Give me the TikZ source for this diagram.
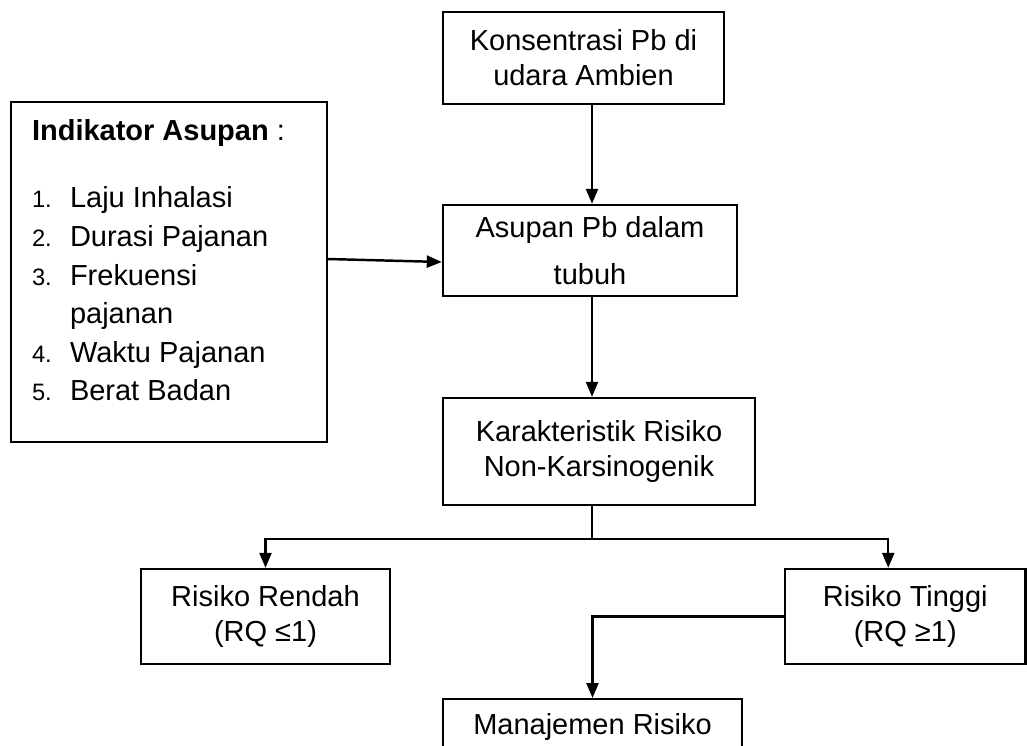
\documentclass[tikz,border=0pt]{standalone}
\usepackage{fontspec}
\setmainfont{Liberation Sans}
\usetikzlibrary{arrows.meta}
\newcommand\itemno[1]{\makebox[0.76cm][l]{\fontsize{13.5}{22}\selectfont #1}}
\tikzset{
 box/.style={draw, line width=1.4pt, align=center, inner sep=0pt, font=\fontsize{16.5}{20}\selectfont},
 arr/.style={-{Triangle[length=0.3cm,width=0.24cm]}}
}
\begin{document}
\begin{tikzpicture}[x=0.02cm,y=-0.02cm,line width=1.4pt]
\useasboundingbox (0,0) rectangle (1027,745);
 \coordinate (axis) at (592,0);
 \coordinate (split) at (592,539);

\node[box,minimum width=5.62cm,minimum height=1.84cm] (konsen) at (583.5,58) {Konsentrasi Pb di\\udara Ambien};
\node[box,minimum width=5.88cm,minimum height=1.82cm] (asupan) at (590,250.5) {Asupan Pb dalam\\[0.24cm]tubuh};
\node[box,minimum width=6.24cm,minimum height=2.14cm] (karakter) at (599,451.5) {Karakteristik Risiko\\Non-Karsinogenik};
\node[box,minimum width=4.98cm,minimum height=1.9cm] (rendah) at (265.5,616.5) {Risiko Rendah\\(RQ ≤1)};
\node[box,minimum width=4.81cm,minimum height=1.9cm] (tinggi) at (905.25,616.5) {Risiko Tinggi\\(RQ ≥1)};
\node[box,minimum width=5.98cm,inner ysep=0.28cm,anchor=north] (manaj) at (592.5,698) {Manajemen Risiko};
\node[box] (indik) at (169,272) {\parbox[c][6.8cm][t]{6.32cm}{\fontsize{16.5}{22}\selectfont\raggedright\leftskip=0.42cm
 \vspace*{0.34cm}
 \textbf{Indikator Asupan} :\\[0.58cm]
 \itemno{1.}Laju Inhalasi\\
 \itemno{2.}Durasi Pajanan\\
 \itemno{3.}Frekuensi\\
 \hspace*{0.76cm}pajanan\\
 \itemno{4.}Waktu Pajanan\\
 \itemno{5.}Berat Badan}};

\draw[arr] (konsen.south -| axis) -- (asupan.north -| axis);
\draw[arr] ([yshift=0.26cm]indik.east) -- ([yshift=-0.23cm]asupan.west);
\draw[arr] (asupan.south -| axis) -- (karakter.north -| axis);
\draw (karakter.south -| split) -- (split);
\draw[arr] (split) -| (rendah.north);
\draw[arr] (split) -| ([xshift=-0.34cm]tinggi.north);
\draw[arr] (tinggi.west) -| (manaj.north);
\end{tikzpicture}
\end{document}
